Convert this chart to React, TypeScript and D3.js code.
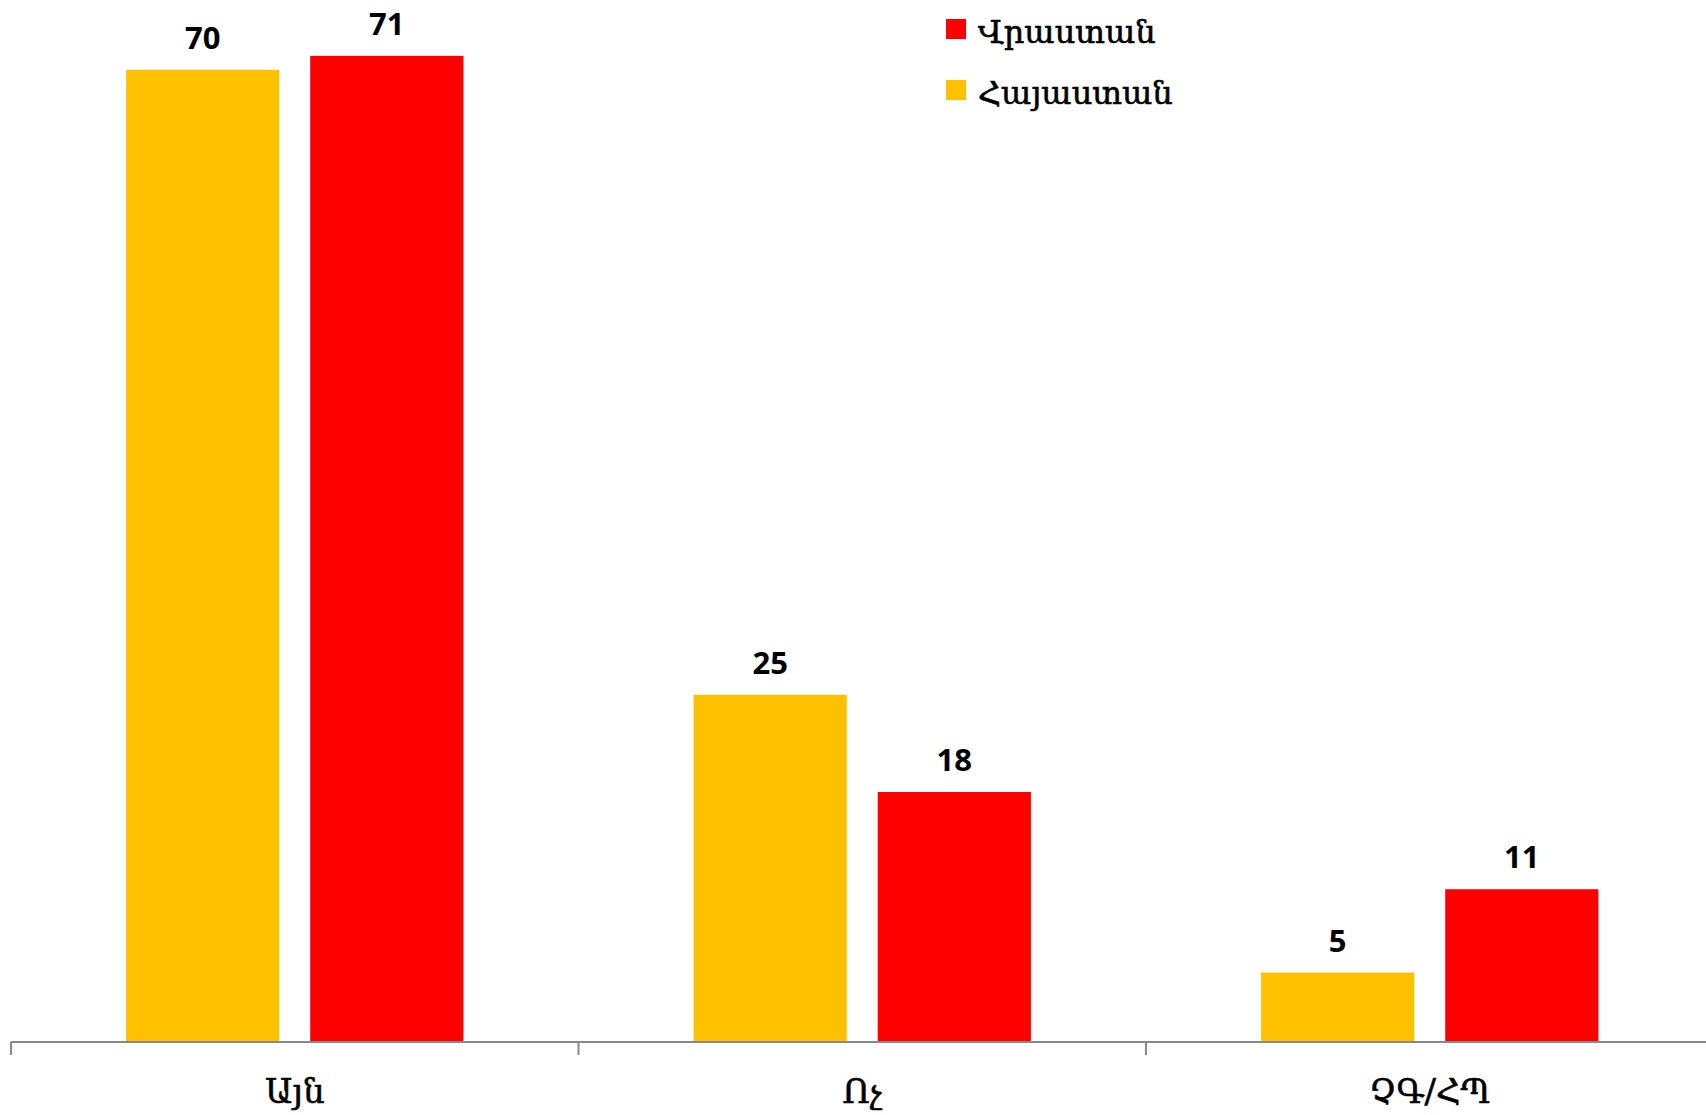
import React from "react";
import * as d3 from "d3";

const categories = ["Այն", "Ոչ", "ՉԳ/ՀՊ"];
const seriesNames = ["Հայաստան", "Վրաստան"];
const armeniaValues = [70, 25, 5];
const georgiaValues = [71, 18, 11];
const seriesColors = ["#FFC000", "#FF0000"];
const legendOrder = ["Վրաստան", "Հայաստան"];

const W = 1706;
const H = 1115;

export default function App() {
  React.useEffect(() => {
    document.body.style.margin = "0";
  }, []);

  const x = d3.scaleBand<string>().domain(categories).range([11, 11 + 3 * 567.5]).padding(0);
  const xSub = d3
    .scaleBand<string>()
    .domain(seriesNames)
    .range([0, x.bandwidth()])
    .paddingInner(0.168)
    .paddingOuter(0.625);
  const y = d3.scaleLinear().domain([0, 72]).range([1042, 42]);

  const values: Record<string, number[]> = {
    [seriesNames[0]]: armeniaValues,
    [seriesNames[1]]: georgiaValues,
  };
  const colorOf = (s: string) => seriesColors[seriesNames.indexOf(s)];

  const ticks = [...categories.map((c) => x(c)!), x(categories[categories.length - 1])! + x.bandwidth()];

  return (
    <svg width={W} height={H} style={{ display: "block", background: "#fff" }}>
      {categories.map((c, ci) =>
        seriesNames.map((s) => {
          const v = values[s][ci];
          const bx = x(c)! + xSub(s)!;
          return (
            <g key={c + s}>
              <rect x={bx} y={y(v)} width={xSub.bandwidth()} height={y(0) - y(v)} fill={colorOf(s)} />
              <text
                x={bx + xSub.bandwidth() / 2}
                y={y(v) - 21}
                textAnchor="middle"
                fontFamily="'Open Sans', 'Noto Sans', sans-serif"
                fontWeight={700}
                fontSize={31}
                fill="#000"
              >
                {v}
              </text>
            </g>
          );
        })
      )}
      <line x1={11} x2={W} y1={y(0)} y2={y(0)} stroke="#898989" strokeWidth={2} />
      {ticks.map((t, i) => (
        <line key={i} x1={t} x2={t} y1={y(0)} y2={y(0) + 13} stroke="#898989" strokeWidth={2} />
      ))}
      {categories.map((c) => (
        <text
          key={c}
          x={x(c)! + x.bandwidth() / 2}
          y={1103}
          textAnchor="middle"
          fontFamily="'DejaVu Serif', serif"
          fontSize={34}
          stroke="#000"
          strokeWidth={0.6}
          fill="#000"
        >
          {c}
        </text>
      ))}
      {legendOrder.map((s, i) => (
        <g key={s} transform={`translate(946, ${19 + i * 61})`}>
          <rect x={0} y={0} width={20} height={20} fill={colorOf(s)} />
          <text
            x={32}
            y={24}
            fontFamily="'DejaVu Serif', serif"
            fontSize={32}
            stroke="#000"
            strokeWidth={0.6}
            fill="#000"
          >
            {s}
          </text>
        </g>
      ))}
    </svg>
  );
}
